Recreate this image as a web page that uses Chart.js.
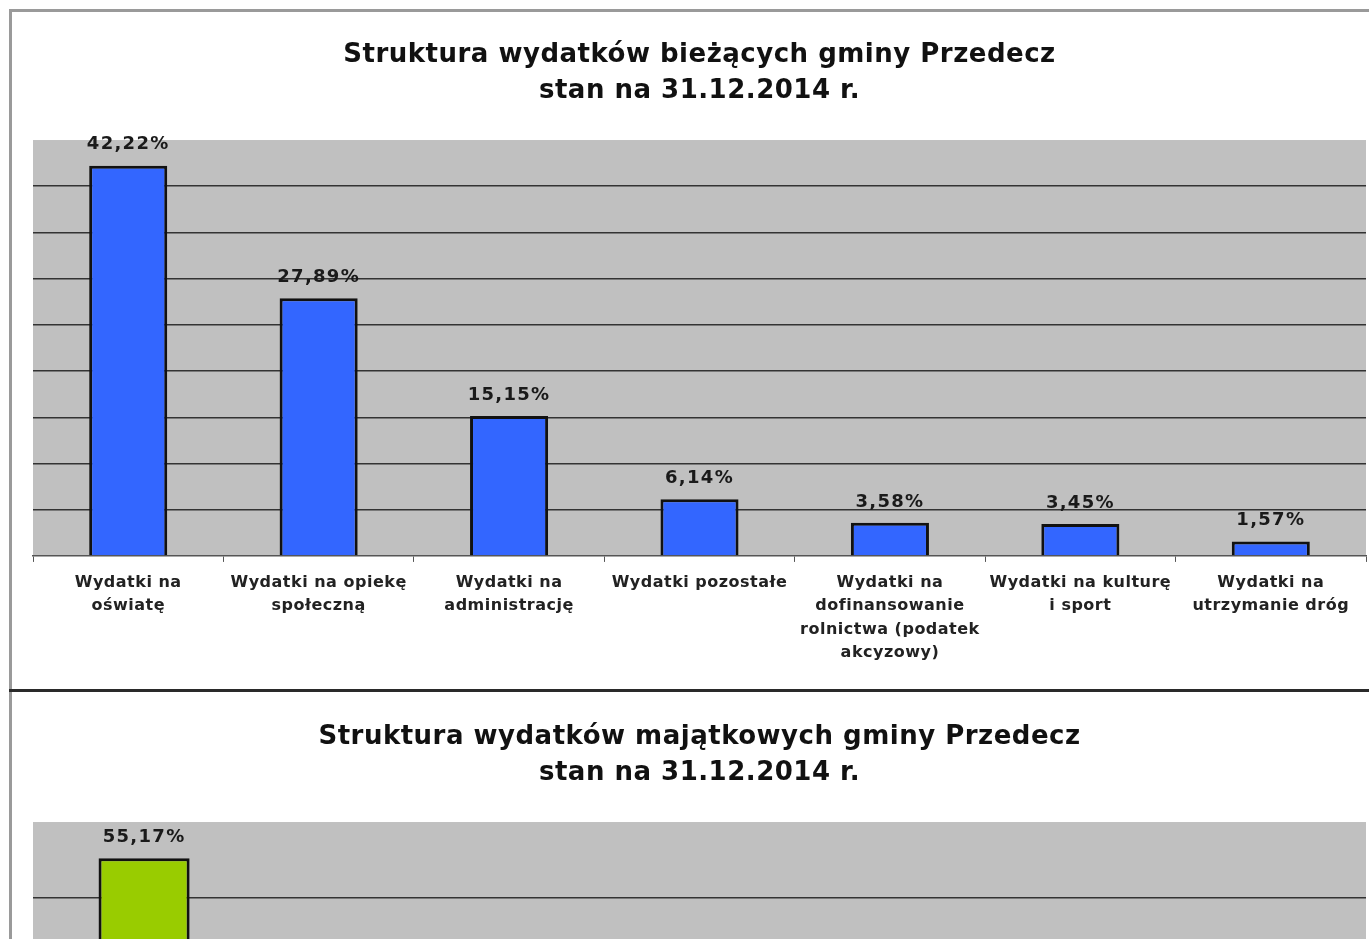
<!DOCTYPE html>
<html lang="pl">
<head>
    <meta charset="UTF-8">
    <title>Struktura wydatków gminy Przedecz</title>
    <script src="https://cdn.jsdelivr.net/npm/chart.js"></script>
    <style>
        body {
            margin: 0;
            background: white;
            overflow: hidden;
            width: 1369px;
            height: 939px;
            position: relative;
        }
        #frame {
            position: absolute;
            left: 9px;
            top: 9px;
            width: 1400px;
            height: 1000px;
            border-top: 3px solid #9a9a9a;
            border-left: 3px solid #9a9a9a;
        }
        #divider {
            position: absolute;
            left: 9px;
            top: 689px;
            width: 1400px;
            height: 3px;
            background: #2a2a2a;
        }
        #currentChart {
            position: absolute;
            left: 12px;
            top: 12px;
        }
        #capitalChart {
            position: absolute;
            left: 12px;
            top: 692px;
        }
    </style>
</head>
<body>
    <div id="frame"></div>
    <div id="divider"></div>
    <canvas id="currentChart" width="1357" height="677"></canvas>
    <canvas id="capitalChart" width="1357" height="646"></canvas>

    <script>
        // wydatki bieżące
        const currentLabels = [
            ["Wydatki na", "oświatę"],
            ["Wydatki na opiekę", "społeczną"],
            ["Wydatki na", "administrację"],
            ["Wydatki pozostałe"],
            ["Wydatki na", "dofinansowanie", "rolnictwa (podatek", "akcyzowy)"],
            ["Wydatki na kulturę", "i sport"],
            ["Wydatki na", "utrzymanie dróg"]
        ];
        const currentValues = [42.22, 27.89, 15.15, 6.14, 3.58, 3.45, 1.57];

        // wydatki majątkowe - only the first bar is visible in the picture
        const capitalLabels = ["", "", "", "", "", ""];
        const capitalValues = [55.17, null, null, null, null, null];

        const fontFamily = "'DejaVu Sans', 'Liberation Sans', Arial, sans-serif";

        function fmt(v) {
            return v.toFixed(2).replace('.', ',') + '%';
        }

        // the original text is a bit wider than DejaVu, widen it a little
        const spacing = {
            id: 'spacing',
            beforeLayout(chart) { chart.ctx.letterSpacing = '0.5px'; },
            beforeDraw(chart) { chart.ctx.letterSpacing = '0.5px'; }
        };

        const plotBackground = {
            id: 'plotBackground',
            beforeDraw(chart) {
                const a = chart.chartArea;
                const ctx = chart.ctx;
                ctx.save();
                ctx.fillStyle = '#c0c0c0';
                ctx.fillRect(a.left, a.top, a.right - a.left, a.bottom - a.top);
                ctx.restore();
            }
        };

        const valueLabels = {
            id: 'valueLabels',
            afterDatasetsDraw(chart) {
                const ctx = chart.ctx;
                const meta = chart.getDatasetMeta(0);
                const data = chart.data.datasets[0].data;
                ctx.save();
                ctx.font = 'bold 18px ' + fontFamily;
                ctx.letterSpacing = '1.3px';
                ctx.fillStyle = '#1a1a1a';
                ctx.textAlign = 'center';
                ctx.textBaseline = 'middle';
                meta.data.forEach((bar, i) => {
                    if (data[i] == null) return;
                    ctx.fillText(fmt(data[i]), bar.x, bar.y - 21);
                });
                ctx.restore();
            }
        };

        function makeChart(id, title, labels, values, color, yMax, yStep, padTop, padBottom) {
            return new Chart(document.getElementById(id), {
                type: 'bar',
                data: {
                    labels: labels,
                    datasets: [{
                        data: values,
                        backgroundColor: color,
                        borderColor: '#111',
                        borderWidth: 3,
                        borderSkipped: 'bottom',
                        barPercentage: 0.41,
                        categoryPercentage: 1
                    }]
                },
                options: {
                    responsive: false,
                    animation: false,
                    layout: {
                        padding: { left: 21, right: 3, bottom: padBottom }
                    },
                    plugins: {
                        legend: { display: false },
                        tooltip: { enabled: false },
                        title: {
                            display: true,
                            text: title,
                            color: '#111',
                            font: { family: fontFamily, size: 26, weight: 'bold', lineHeight: 1.385 },
                            padding: { top: padTop, bottom: 31 }
                        }
                    },
                    scales: {
                        x: {
                            offset: true,
                            border: { display: true, color: '#555', width: 1.5 },
                            grid: {
                                offset: true,
                                drawOnChartArea: false,
                                drawTicks: true,
                                tickLength: 6,
                                color: '#555'
                            },
                            ticks: {
                                color: '#222',
                                maxRotation: 0,
                                autoSkip: false,
                                padding: 9,
                                font: { family: fontFamily, size: 16, weight: 'bold', lineHeight: 1.47 }
                            }
                        },
                        y: {
                            min: 0,
                            max: yMax,
                            afterFit: s => { s.width = 0; },
                            border: { display: false },
                            grid: {
                                drawTicks: false,
                                lineWidth: 1.5,
                                color: c => (c.tick.value === 0 || c.tick.value === yMax) ? 'rgba(0,0,0,0)' : '#333'
                            },
                            ticks: { display: false, stepSize: yStep }
                        }
                    }
                },
                plugins: [spacing, plotBackground, valueLabels]
            });
        }

        makeChart('currentChart',
            ['Struktura wydatków bieżących gminy Przedecz', 'stan na 31.12.2014 r.'],
            currentLabels, currentValues, '#3366ff', 45, 5, 25, 15);

        makeChart('capitalChart',
            ['Struktura wydatków majątkowych gminy Przedecz', 'stan na 31.12.2014 r.'],
            capitalLabels, capitalValues, '#99cc00', 60, 10, 27, 17);
    </script>
</body>
</html>
